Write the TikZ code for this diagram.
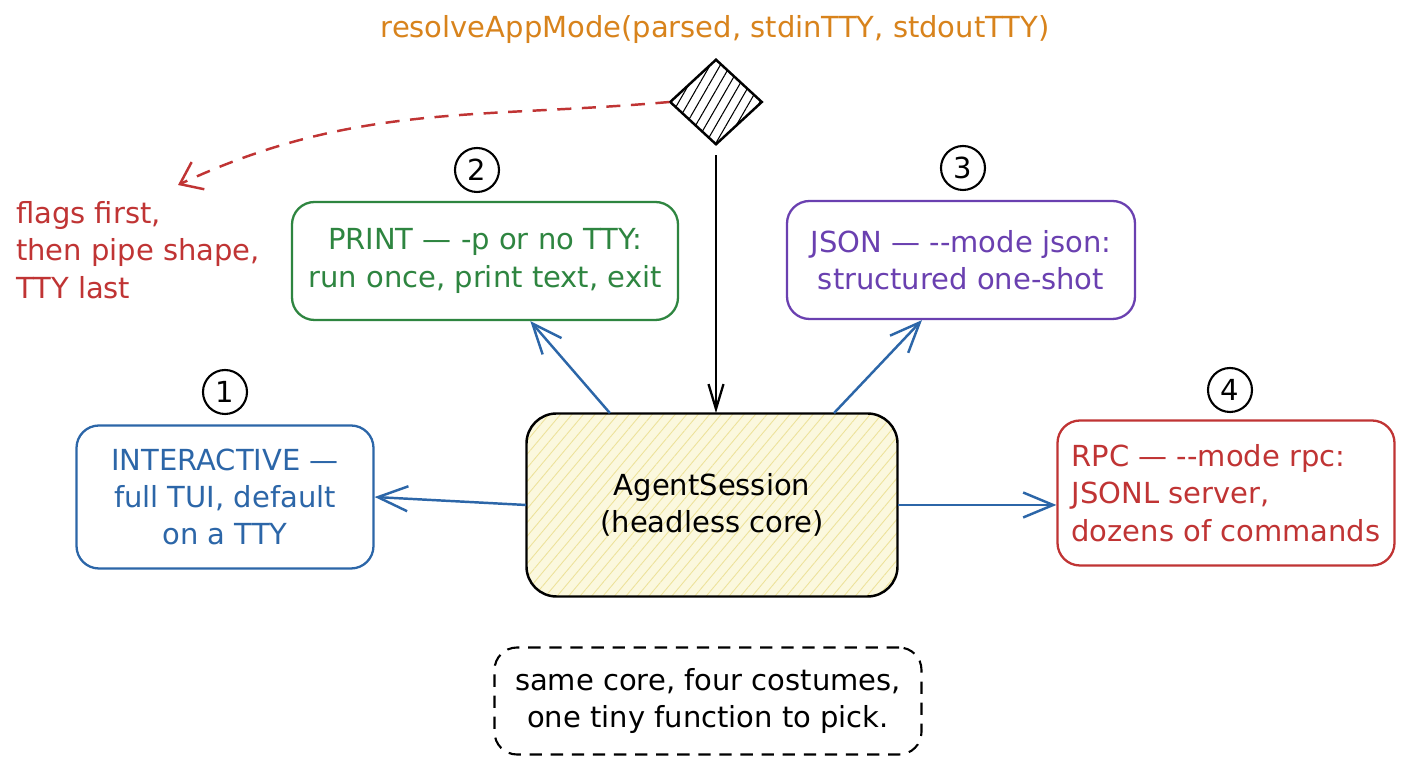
\documentclass[tikz,border=0pt]{standalone}
\usepackage{fontspec}
\setmainfont{DejaVu Sans}
\usepackage{xcolor}
\usetikzlibrary{shapes.geometric, arrows.meta, patterns.meta}

\definecolor{modeblue}{HTML}{2C66A8}
\definecolor{modegreen}{HTML}{2E8540}
\definecolor{modepurple}{HTML}{6A40B0}
\definecolor{modered}{HTML}{C03434}
\definecolor{modeorange}{HTML}{D8831C}
\definecolor{corefill}{HTML}{FBF8DE}
\definecolor{corehatch}{HTML}{EDE29A}

\begin{document}
\begin{tikzpicture}[
        txt/.style={font=\fontsize{16.5}{21.3}\selectfont},
        modebox/.style={txt, draw, rounded corners=0.45cm, line width=1.3pt, align=center, inner sep=0pt},
        num/.style={txt, draw, circle, line width=1.2pt, minimum size=0.88cm, inner sep=0pt},
        feed/.style={-{Straight Barb[length=6mm, width=5mm]}, modeblue, line width=1.4pt}
    ]
        \fill[white] (0, 0) rectangle (28.16, 15.36);
        \useasboundingbox (0, 0) rectangle (28.16, 15.36);

        % the picker on top
        \node[txt, modeorange] (title) at (14.3, 14.76) {resolveAppMode(parsed, stdinTTY, stdoutTTY)};
        \node[diamond, draw, line width=1.4pt, minimum width=1.84cm, minimum height=1.7cm, inner sep=0pt,
            pattern={Lines[angle=60, distance=5pt, line width=0.6pt]}] (pick) at (14.32, 13.32) {};

        \node[txt, modered, anchor=west, align=left] (order) at (0.2, 10.36) {flags first,\\then pipe shape,\\TTY last};
        \coordinate (orderhint) at (3.56, 11.66);

        % the four modes
        \node[modebox, modegreen, minimum width=7.72cm, minimum height=2.36cm] (print) at (9.7, 10.14) {PRINT — -p or no TTY:\\run once, print text, exit};
        \node[modebox, modepurple, minimum width=6.96cm, minimum height=2.36cm] (json) at (19.22, 10.16) {JSON — -{}-mode json:\\structured one-shot};
        \node[modebox, modeblue, minimum width=5.94cm, minimum height=2.86cm] (inter) at (4.5, 5.42) {INTERACTIVE —\\full TUI, default\\on a TTY};
        \node[modebox, modered, align=left, minimum width=6.74cm, minimum height=2.9cm] (rpc) at (24.52, 5.5) {RPC — -{}-mode rpc:\\JSONL server,\\dozens of commands};

        \node[num] (n1) at (4.5, 7.52) {1};
        \node[num] (n2) at (9.54, 11.96) {2};
        \node[num] (n3) at (19.26, 12.0) {3};
        \node[num] (n4) at (24.6, 7.56) {4};

        % core
        \node[modebox, line width=1.4pt, rounded corners=0.6cm, minimum width=7.42cm, minimum height=3.66cm,
            preaction={fill=corefill}, pattern={Lines[angle=50, distance=5pt, line width=0.5pt]},
            pattern color=corehatch] (core) at (14.24, 5.26) {AgentSession\\(headless core)};

        \node[txt, draw, dash pattern=on 7pt off 5pt, rounded corners=0.45cm, line width=1.2pt,
            minimum width=8.54cm, minimum height=2.14cm, align=center] (moral) at (14.16, 1.34) {same core, four costumes,\\one tiny function to pick.};

        \draw[-{Straight Barb[length=5mm, width=3mm]}, line width=1.3pt, shorten <=0.2cm] (pick.south) -- (pick.south |- core.north);
        \draw[modered, line width=1.4pt, dash pattern=on 8pt off 6pt, -{Straight Barb[length=4mm, width=6mm]}]
            (pick.west) to[out=185, in=25] (orderhint);

        \draw[feed] (core.138) -- (print.307);
        \draw[feed] (core.37) -- (json.237);
        \draw[feed] (core.west) -- (inter.east);
        \draw[feed] (core.east) -- (core.east -| rpc.west);
    \end{tikzpicture}
\end{document}
